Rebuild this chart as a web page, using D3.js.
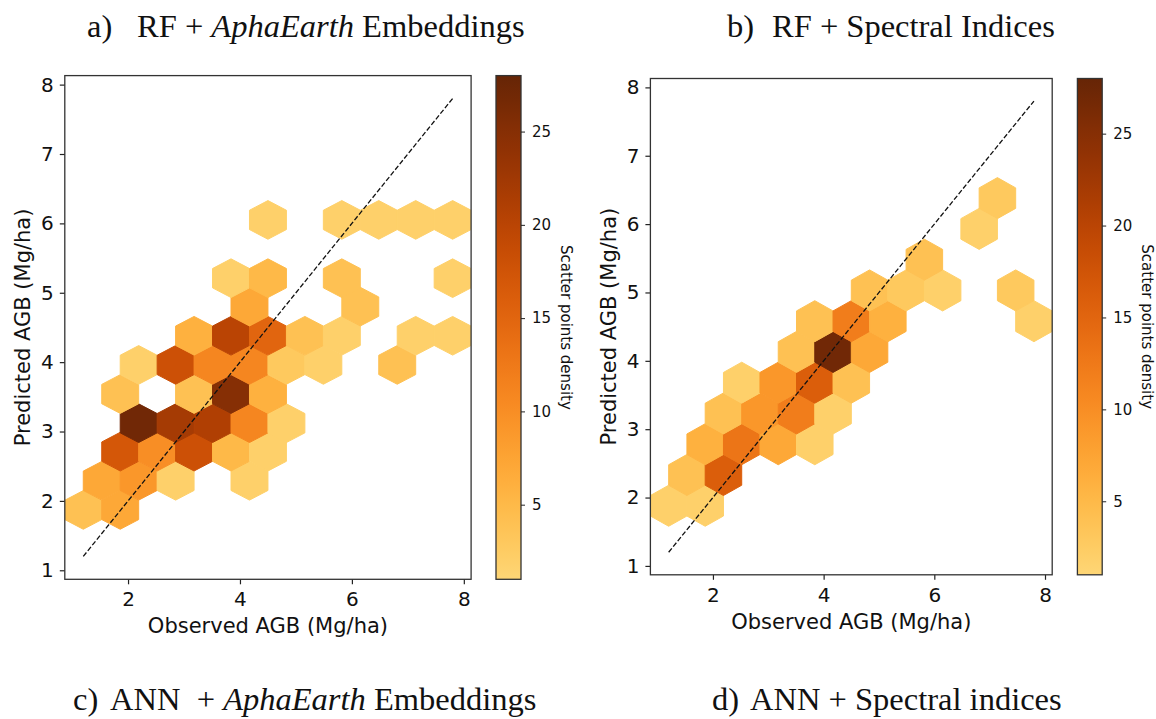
<!DOCTYPE html>
<html lang="en">
<head>
<meta charset="utf-8">
<title>Observed vs predicted AGB</title>
<script src="https://cdn.jsdelivr.net/npm/d3@7"></script>
<style>
  body { margin: 0; background: #fff; }
  svg { display: block; }
  .tick text { font-family: "DejaVu Sans", sans-serif; fill: #111; }
  .tick line { stroke: #222; }
  .lab { font-family: "DejaVu Sans", sans-serif; fill: #111; }
  .title { font-family: "Liberation Serif", "Times New Roman", serif; font-size: 32.5px; fill: #111; white-space: pre; }
</style>
</head>
<body>
<svg id="chart" width="1156" height="719"></svg>
<script>
// hex centres (Mg/ha) and number of points in each hex
const rfEmbedX = [1.20, 1.86,
  1.53, 2.19, 2.85, 4.17,
  1.86, 2.52, 3.18, 3.84, 4.50,
  2.19, 2.85, 3.51, 4.17, 4.83,
  1.86, 3.18, 3.84, 4.50,
  2.19, 2.85, 3.51, 4.17, 4.83, 5.49, 6.81,
  3.18, 3.84, 4.50, 5.16, 5.82, 7.14, 7.80,
  4.17, 6.15,
  3.84, 4.50, 5.82, 7.80,
  4.50, 5.82, 6.48, 7.14, 7.80];
const rfEmbedY = [1.87, 1.87,
  2.29, 2.29, 2.29, 2.29,
  2.71, 2.71, 2.71, 2.71, 2.71,
  3.12, 3.12, 3.12, 3.12, 3.12,
  3.54, 3.54, 3.54, 3.54,
  3.96, 3.96, 3.96, 3.96, 3.96, 3.96, 3.96,
  4.38, 4.38, 4.38, 4.38, 4.38, 4.38, 4.38,
  4.80, 4.80,
  5.21, 5.21, 5.21, 5.21,
  6.05, 6.05, 6.05, 6.05, 6.05];
const rfEmbedCount = [4, 7,
  7, 9, 2, 2,
  17, 10, 18, 5, 2,
  27, 22, 21, 11, 2,
  4, 4, 25, 6,
  2, 18, 11, 11, 3, 2, 4,
  6, 20, 15, 4, 2, 2, 2,
  7, 4,
  2, 5, 4, 2,
  2, 2, 2, 2, 2];

const rfSpecX = [1.20, 1.86,
  1.53, 2.19,
  1.86, 2.52, 3.18, 3.84,
  2.19, 2.85, 3.51, 4.17,
  2.52, 3.18, 3.84, 4.50,
  3.51, 4.17, 4.83,
  3.84, 4.50, 5.16, 7.80,
  4.83, 5.49, 6.15, 7.47,
  5.82,
  6.81,
  7.14];
const rfSpecY = [1.88, 1.88,
  2.33, 2.33,
  2.78, 2.78, 2.78, 2.78,
  3.23, 3.23, 3.23, 3.23,
  3.68, 3.68, 3.68, 3.68,
  4.13, 4.13, 4.13,
  4.58, 4.58, 4.58, 4.58,
  5.03, 5.03, 5.03, 5.03,
  5.48,
  5.93,
  6.38];
const rfSpecCount = [2, 2,
  4, 16,
  6, 13, 7, 2,
  4, 9, 12, 2,
  2, 9, 16, 4,
  4, 27, 7,
  4, 12, 6, 2,
  4, 3, 2, 3,
  4,
  2,
  3];

const xTicks = [2, 4, 6, 8];
const yTicks = [1, 2, 3, 4, 5, 6, 7, 8];
const densityTicks = [5, 10, 15, 20, 25];
const densityRange = [1, 28];
const oneToOne = [1.2, 7.8];
const axisRange = [0.87, 8.13];

const titleTags = ["a)", "b)", "c)", "d)"];
const titlePre = ["RF + ", "RF + Spectral Indices", "ANN  + ", "ANN + Spectral indices"];
const titleEm = ["AphaEarth", "", "AphaEarth", ""];
const titlePost = [" Embeddings", "", " Embeddings", ""];

const svg = d3.select("#chart");
svg.append("rect").attr("width", 1156).attr("height", 719).attr("fill", "#fff");

const color = d3.scaleSequential(t => d3.interpolateYlOrBr(0.3 + 0.7 * t)).domain(densityRange);

// gradient for the colour bars
const grad = svg.append("defs").append("linearGradient")
  .attr("id", "cbar").attr("x1", 0).attr("y1", 1).attr("x2", 0).attr("y2", 0);
d3.range(0, 1.0001, 0.05).forEach(t => {
  grad.append("stop").attr("offset", t)
    .attr("stop-color", color(densityRange[0] + t * (densityRange[1] - densityRange[0])));
});

const panels = [
  { xs: rfEmbedX, ys: rfEmbedY, ns: rfEmbedCount, sy: 0.836,
    l: 64.8, r: 471.1, t: 75.6, b: 579.3, cl: 496, cr: 521,
    ylabX: 30, xlabY: 633, cbLabX: 561 },
  { xs: rfSpecX, ys: rfSpecY, ns: rfSpecCount, sy: 0.9,
    l: 650.4, r: 1052.2, t: 78.5, b: 574.8, cl: 1077.4, cr: 1102.2,
    ylabX: 616, xlabY: 629, cbLabX: 1142 }
];
const sx = 0.66;
const hexCorners = [[0.5, -1/6], [0.5, 1/6], [0, 1/3], [-0.5, 1/6], [-0.5, -1/6], [0, -1/3]];

panels.forEach((p, i) => {
  const x = d3.scaleLinear().domain(axisRange).range([p.l, p.r]);
  const y = d3.scaleLinear().domain(axisRange).range([p.b, p.t]);
  const g = svg.append("g");

  g.append("clipPath").attr("id", "clip" + i)
    .append("rect").attr("x", p.l).attr("y", p.t).attr("width", p.r - p.l).attr("height", p.b - p.t);

  const cells = p.xs.map((cx, k) => ({ cx: cx, cy: p.ys[k], n: p.ns[k] }));
  const hex = d => "M" + hexCorners.map(c => [x(d.cx + c[0] * sx), y(d.cy + c[1] * p.sy)].join(",")).join("L") + "Z";

  g.append("g").attr("clip-path", `url(#clip${i})`)
    .selectAll("path").data(cells).join("path")
    .attr("d", hex)
    .attr("fill", d => color(d.n))
    .attr("stroke", d => color(d.n))
    .attr("stroke-width", 1);

  g.append("line")
    .attr("x1", x(oneToOne[0])).attr("y1", y(oneToOne[0]))
    .attr("x2", x(oneToOne[1])).attr("y2", y(oneToOne[1]))
    .attr("stroke", "#111").attr("stroke-width", 1.3).attr("stroke-dasharray", "5,2.2");

  const xa = g.append("g").attr("transform", `translate(0,${p.b})`)
    .call(d3.axisBottom(x).tickValues(xTicks).tickSize(5).tickPadding(8).tickFormat(d3.format("d")));
  const ya = g.append("g").attr("transform", `translate(${p.l},0)`)
    .call(d3.axisLeft(y).tickValues(yTicks).tickSize(5).tickPadding(6).tickFormat(d3.format("d")));
  [xa, ya].forEach(a => {
    a.select(".domain").remove();
    a.selectAll(".tick text").style("font-size", "20px");
    a.selectAll(".tick line").attr("stroke-width", 1.2);
  });

  g.append("rect").attr("x", p.l).attr("y", p.t).attr("width", p.r - p.l).attr("height", p.b - p.t)
    .attr("fill", "none").attr("stroke", "#333").attr("stroke-width", 1.3);

  g.append("text").attr("class", "lab")
    .attr("x", (p.l + p.r) / 2).attr("y", p.xlabY)
    .attr("text-anchor", "middle").style("font-size", "21px")
    .text("Observed AGB (Mg/ha)");
  g.append("text").attr("class", "lab")
    .attr("transform", `translate(${p.ylabX},${(p.t + p.b) / 2}) rotate(-90)`)
    .attr("text-anchor", "middle").style("font-size", "21px")
    .text("Predicted AGB (Mg/ha)");

  // colour bar
  const cy = d3.scaleLinear().domain(densityRange).range([p.b, p.t]);
  g.append("rect").attr("x", p.cl).attr("y", p.t).attr("width", p.cr - p.cl).attr("height", p.b - p.t)
    .attr("fill", "url(#cbar)").attr("stroke", "#333").attr("stroke-width", 1.3);
  const ca = g.append("g").attr("transform", `translate(${p.cr},0)`)
    .call(d3.axisRight(cy).tickValues(densityTicks).tickSize(4).tickPadding(7));
  ca.select(".domain").remove();
  ca.selectAll(".tick text").style("font-size", "15px");
  g.append("text").attr("class", "lab")
    .attr("transform", `translate(${p.cbLabX},${(p.t + p.b) / 2}) rotate(90)`)
    .attr("text-anchor", "middle").style("font-size", "15px")
    .text("Scatter points density");
});

// panel titles (the bottom two belong to panels cut off below)
const tagX = [87, 727, 73, 712];
const textX = [137, 772, 110, 750];
const baseY = [37, 37, 710, 710];
titleTags.forEach((tag, i) => {
  svg.append("text").attr("class", "title").attr("x", tagX[i]).attr("y", baseY[i]).text(tag);
  const t = svg.append("text").attr("class", "title").attr("x", textX[i]).attr("y", baseY[i]);
  t.append("tspan").text(titlePre[i]);
  if (titleEm[i]) t.append("tspan").style("font-style", "italic").text(titleEm[i]);
  if (titlePost[i]) t.append("tspan").text(titlePost[i]);
});
</script>
</body>
</html>
